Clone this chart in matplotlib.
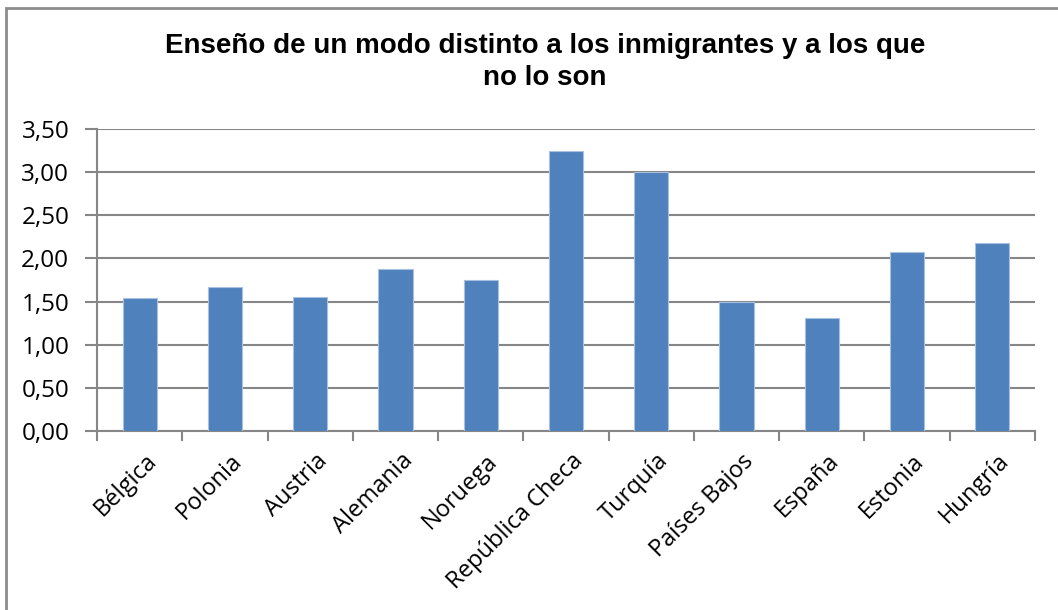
import matplotlib.pyplot as plt
from matplotlib.patches import Rectangle
from matplotlib.ticker import FuncFormatter
from matplotlib.transforms import ScaledTranslation
import numpy as np

paises = ['Bélgica', 'Polonia', 'Austria', 'Alemania', 'Noruega', 'República Checa',
          'Turquía', 'Países Bajos', 'España', 'Estonia', 'Hungría']
valores = [1.54, 1.67, 1.55, 1.88, 1.75, 3.25, 3.00, 1.50, 1.31, 2.07, 2.18]

W, H = 1058, 610
fig = plt.figure(figsize=(W / 100, H / 100), dpi=100)

# marco exterior del grafico (solo se ven arriba e izquierda)
fig.patches.append(Rectangle((6 / W, -0.1), 1.2, (H - 8) / H + 0.1, transform=fig.transFigure,
                             fill=False, edgecolor='#8c8c8c', linewidth=2))

x0, x1, y0, y1 = 97, 1035, 431, 129
ax = fig.add_axes([x0 / W, (H - y0) / H, (x1 - x0) / W, (y0 - y1) / H])

x = np.arange(len(paises))
ax.bar(x, valores, width=0.40, color='#4F81BD', edgecolor='#a9c1e0', linewidth=0.8, zorder=3)

ax.set_xlim(-0.5, len(paises) - 0.5)
ax.set_ylim(0, 3.5)
ax.set_yticks(np.arange(0, 3.51, 0.5))
ax.yaxis.set_major_formatter(FuncFormatter(lambda v, p: ('%.2f' % v).replace('.', ',')))
ax.grid(axis='y', color='#868686', linewidth=1.5, zorder=0)

ax.set_xticks(np.arange(-0.5, len(paises), 1))
ax.set_xticklabels([])
ax.set_xticks(x, minor=True)
ax.set_xticklabels(paises, minor=True, rotation=45, ha='right', va='top', rotation_mode='anchor',
                   fontsize=17, family='Open Sans')
ax.tick_params(axis='x', which='minor', length=0, pad=13)
ax.tick_params(axis='x', which='major', length=7, color='#868686', width=1.5)
ax.tick_params(axis='y', length=9, color='#868686', width=1.5, pad=11)
off = ScaledTranslation(5 / 100, 0, fig.dpi_scale_trans)
for lab in ax.get_xticklabels(minor=True):
    lab.set_transform(lab.get_transform() + off)
for lab in ax.get_yticklabels():
    lab.set_fontsize(17.5)
    lab.set_family('Open Sans')

for s in ['top', 'right']:
    ax.spines[s].set_visible(False)
for s in ['left', 'bottom']:
    ax.spines[s].set_color('#868686')
    ax.spines[s].set_linewidth(1.5)

fig.text(545 / W, 1 - 62 / H, 'Enseño de un modo distinto a los inmigrantes y a los que\nno lo son',
         ha='center', va='center', fontsize=20, fontweight='bold', family='Liberation Sans',
         linespacing=1.32)

fig.savefig('out.png', dpi=100)
